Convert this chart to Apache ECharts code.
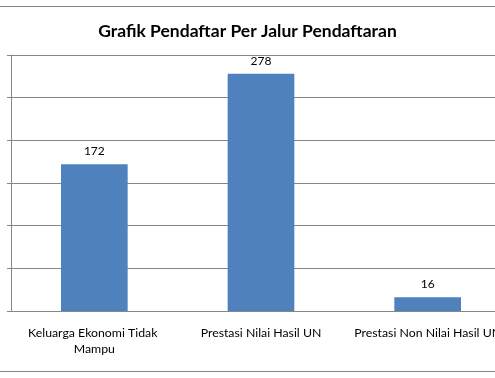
<!DOCTYPE html>
<html>
<head>
<meta charset="utf-8">
<script src="https://cdn.jsdelivr.net/npm/echarts@6/dist/echarts.min.js"></script>
<style>
  html, body { margin: 0; padding: 0; background: #fff; overflow: hidden; }
  #chart { width: 495px; height: 378px; }
</style>
</head>
<body>
<div id="chart"></div>
<script>
var categories = ['Keluarga Ekonomi Tidak Mampu', 'Prestasi Nilai Hasil UN', 'Prestasi Non Nilai Hasil UN'];
var pendaftar = [172, 278, 16];
var yMax = 300;
var yStep = 50;

var chart = echarts.init(document.getElementById('chart'));
var gridColor = '#868686';

chart.setOption({
  animation: false,
  textStyle: { fontFamily: 'Lato' },
  title: {
    text: 'Grafik Pendaftar Per Jalur Pendaftaran',
    left: 'center',
    top: 17,
    textStyle: { fontFamily: 'Lato', fontSize: 17.5, fontWeight: 'bold', color: '#000' }
  },
  graphic: [
    { type: 'line', shape: { x1: 0, y1: 6.5, x2: 495, y2: 6.5 }, style: { stroke: gridColor, lineWidth: 1 } },
    { type: 'line', shape: { x1: 0, y1: 371.5, x2: 495, y2: 371.5 }, style: { stroke: gridColor, lineWidth: 1 } }
  ],
  grid: { left: 11, width: 500, top: 55, bottom: 67, outerBoundsMode: 'none', containLabel: false },
  xAxis: {
    type: 'category',
    data: categories,
    axisLine: { lineStyle: { color: gridColor } },
    axisTick: { length: 4, lineStyle: { color: gridColor } },
    axisLabel: {
      interval: 0,
      margin: 14,
      width: 150,
      overflow: 'break',
      hideOverlap: false,
      lineHeight: 16,
      fontSize: 12.3,
      color: '#000'
    }
  },
  yAxis: {
    type: 'value',
    min: 0,
    max: yMax,
    interval: yStep,
    axisLine: { show: true, lineStyle: { color: gridColor } },
    axisTick: { show: true, length: 4, lineStyle: { color: gridColor } },
    axisLabel: { show: false },
    splitLine: { lineStyle: { color: gridColor } }
  },
  series: [{
    type: 'bar',
    data: pendaftar,
    barWidth: '40%',
    itemStyle: { color: '#4F81BD' },
    label: {
      show: true,
      position: 'top',
      distance: 7,
      fontSize: 12,
      color: '#000'
    }
  }]
});
</script>
</body>
</html>
